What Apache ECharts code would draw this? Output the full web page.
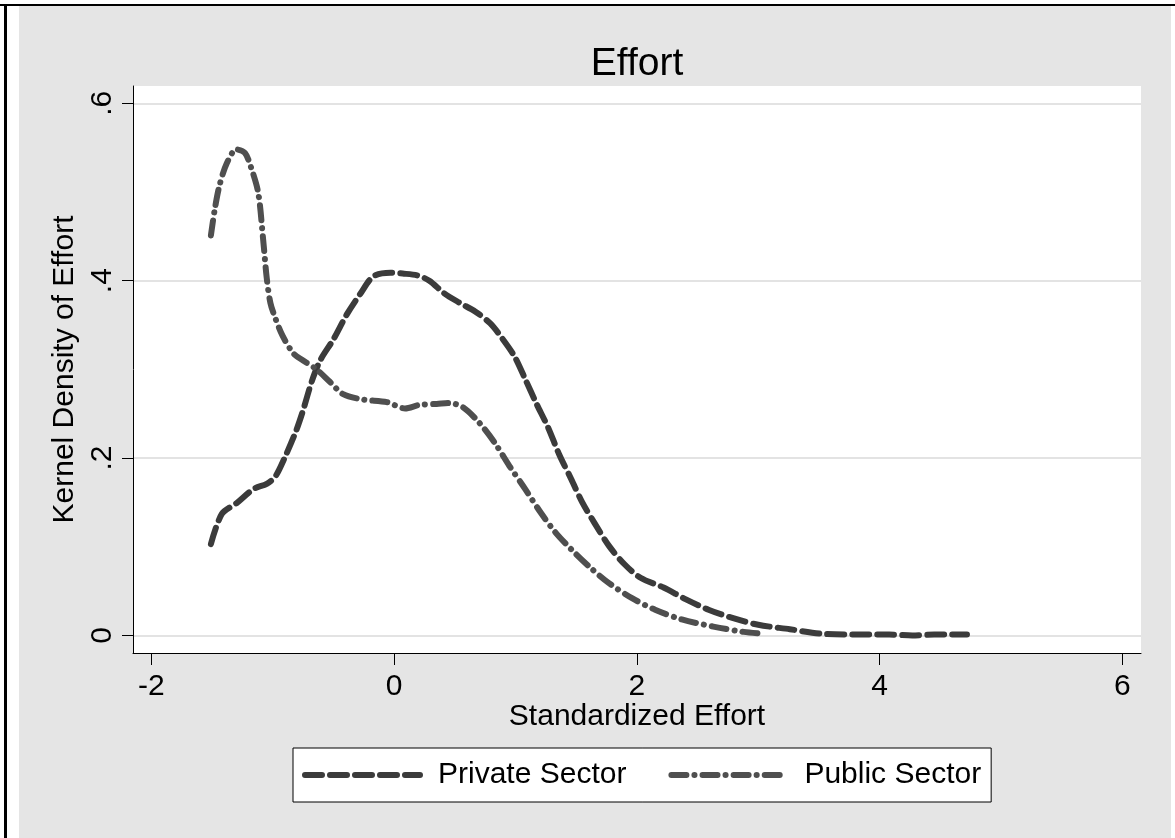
<!DOCTYPE html>
<html>
<head>
<meta charset="utf-8">
<script src="https://cdn.jsdelivr.net/npm/echarts@6/dist/echarts.min.js"></script>
<style>
  html, body { margin: 0; padding: 0; background: #fff; }
  #chart { width: 1175px; height: 838px; }
</style>
</head>
<body>
<div id="chart"></div>
<script>
// Kernel density estimates of standardized effort, by sector
const titleText = 'Effort';
const xAxisTitle = 'Standardized Effort';
const yAxisTitle = 'Kernel Density of Effort';
const seriesNames = ['Private Sector', 'Public Sector'];

const xTicks = [-2, 0, 2, 4, 6];
const yTicks = [0, 0.2, 0.4, 0.6];
const yTickLabels = ['0', '.2', '.4', '.6'];

// [effort, density]
const privateSector = [
  [-1.51, 0.103], [-1.42, 0.137], [-1.30, 0.149], [-1.16, 0.165], [-1.05, 0.171],
  [-0.98, 0.179], [-0.90, 0.201], [-0.81, 0.230], [-0.75, 0.254], [-0.68, 0.286],
  [-0.61, 0.310], [-0.50, 0.334], [-0.39, 0.362], [-0.28, 0.385], [-0.17, 0.405],
  [-0.03, 0.409], [0.07, 0.408], [0.19, 0.406], [0.29, 0.400], [0.41, 0.386],
  [0.54, 0.375], [0.67, 0.365], [0.79, 0.352], [0.89, 0.335], [0.99, 0.315],
  [1.08, 0.289], [1.17, 0.262], [1.27, 0.234], [1.36, 0.204], [1.46, 0.176],
  [1.55, 0.150], [1.65, 0.127], [1.77, 0.101], [1.90, 0.080], [2.03, 0.065],
  [2.22, 0.054], [2.40, 0.041], [2.59, 0.029], [2.78, 0.020], [3.00, 0.012],
  [3.26, 0.007], [3.51, 0.002], [3.82, 0.001], [4.08, 0.001], [4.27, 0.000],
  [4.45, 0.001], [4.72, 0.001]
];

const publicSector = [
  [-1.51, 0.451], [-1.48, 0.479], [-1.44, 0.507], [-1.38, 0.532], [-1.30, 0.548],
  [-1.23, 0.544], [-1.18, 0.528], [-1.12, 0.499], [-1.08, 0.447], [-1.05, 0.403],
  [-1.02, 0.375], [-0.98, 0.358], [-0.92, 0.338], [-0.83, 0.318], [-0.75, 0.310],
  [-0.64, 0.300], [-0.53, 0.286], [-0.42, 0.272], [-0.26, 0.266], [-0.06, 0.263],
  [0.09, 0.256], [0.21, 0.260], [0.35, 0.261], [0.46, 0.262], [0.57, 0.257],
  [0.70, 0.240], [0.83, 0.217], [0.95, 0.191], [1.08, 0.165], [1.21, 0.138],
  [1.33, 0.116], [1.46, 0.097], [1.62, 0.076], [1.77, 0.059], [1.96, 0.042],
  [2.15, 0.029], [2.37, 0.018], [2.63, 0.010], [2.88, 0.004], [3.04, 0.002]
];

const FONT = '"Liberation Sans", Arial, Helvetica, sans-serif';
const TXT = '#000000';

const chart = echarts.init(document.getElementById('chart'), null, { renderer: 'canvas' });

chart.setOption({
  backgroundColor: '#ffffff',
  animation: false,
  graphic: [
    // outer panel
    { type: 'rect', z: -10, silent: true,
      shape: { x: 19, y: 6, width: 1152, height: 840 },
      style: { fill: '#e5e5e5' } },
    // frame lines
    { type: 'rect', z: 100, silent: true,
      shape: { x: 0, y: 4, width: 1175, height: 2 }, style: { fill: '#000' } },
    { type: 'rect', z: 100, silent: true,
      shape: { x: 4, y: 4, width: 3, height: 834 }, style: { fill: '#000' } }
  ],
  title: {
    text: titleText,
    left: 632, top: 40, textAlign: 'center',
    textStyle: { fontFamily: FONT, fontSize: 39, fontWeight: 'normal', color: TXT }
  },
  grid: {
    left: 133, top: 86, right: 34, bottom: 185,
    show: true, backgroundColor: '#ffffff', borderWidth: 0
  },
  legend: {
    data: seriesNames,
    left: 293, top: 748,
    orient: 'horizontal',
    backgroundColor: '#ffffff',
    borderColor: '#000000', borderWidth: 1,
    padding: [12, 10, 12, 9],
    itemWidth: 115, itemHeight: 30, itemGap: 42,
    lineStyle: { width: 6, type: 'inherit', cap: 'round', join: 'round' },
    itemStyle: { opacity: 0 },
    textStyle: { fontFamily: FONT, fontSize: 30, color: TXT, padding: [0, 0, 0, 13] }
  },
  xAxis: {
    type: 'value',
    min: -2.152, max: 6.154,
    name: xAxisTitle, nameLocation: 'middle', nameGap: 49, nameMoveOverlap: false,
    nameTextStyle: { fontFamily: FONT, fontSize: 30, color: TXT },
    axisLine: { show: true, onZero: false, lineStyle: { color: '#000', width: 1 } },
    axisTick: { show: true, length: 12, customValues: xTicks, lineStyle: { color: '#000', width: 1 } },
    axisLabel: { customValues: xTicks, margin: 19, fontFamily: FONT, fontSize: 30, color: TXT,
                 formatter: v => String(v) },
    splitLine: { show: false }
  },
  yAxis: {
    type: 'value',
    min: -0.0198, max: 0.6195,
    name: yAxisTitle, nameLocation: 'middle', nameGap: 49, nameRotate: 90,
    nameTextStyle: { fontFamily: FONT, fontSize: 30, color: TXT },
    axisLine: { show: true, onZero: false, lineStyle: { color: '#000', width: 1 } },
    axisTick: { show: true, length: 11, customValues: yTicks, lineStyle: { color: '#000', width: 1 } },
    axisLabel: { customValues: yTicks, rotate: 90, margin: 15, fontFamily: FONT, fontSize: 30, color: TXT,
                 formatter: v => yTickLabels[yTicks.findIndex(t => Math.abs(t - v) < 1e-9)] },
    splitLine: { show: true, lineStyle: { color: '#e3e3e3', width: 2 } }
  },
  series: [
    {
      name: seriesNames[0], type: 'line', data: privateSector,
      symbol: 'none', smooth: 0.3,
      color: '#3b3b3b',
      lineStyle: { color: '#3b3b3b', width: 6, type: [17, 8], cap: 'round', join: 'round' }
    },
    {
      name: seriesNames[1], type: 'line', data: publicSector,
      symbol: 'none', smooth: 0.3,
      color: '#4f4f4f',
      lineStyle: { color: '#4f4f4f', width: 6, type: [15, 8, 0.1, 8], cap: 'round', join: 'round' }
    }
  ]
});
</script>
</body>
</html>
